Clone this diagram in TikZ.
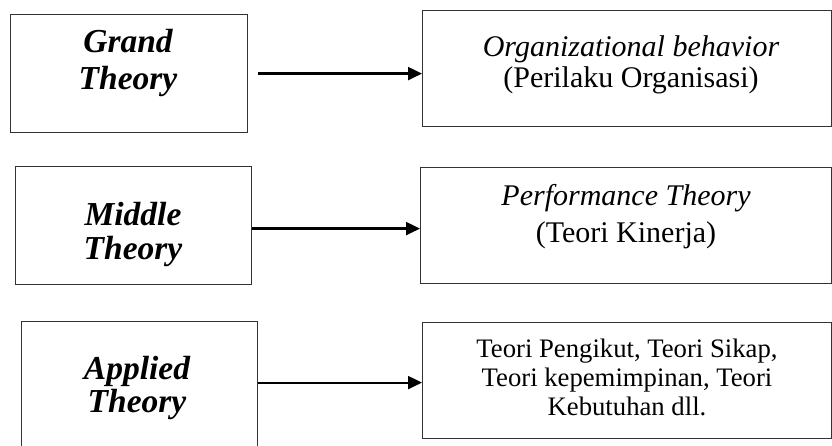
\documentclass[tikz,border=0pt]{standalone}
\usepackage{fontspec}
\setmainfont{Liberation Serif}
\usetikzlibrary{arrows.meta,calc}
\begin{document}
\begin{tikzpicture}[x=1pt,y=-1pt,
  box/.style={draw=black!80,line width=1.2pt,rectangle,inner sep=0pt,anchor=north west},
  lefttext/.style={align=center,font=\fontsize{33.5}{35}\selectfont\bfseries\itshape,inner sep=0pt,anchor=base},
  righttext/.style={align=center,font=\fontsize{30}{31}\selectfont,inner sep=0pt,anchor=base},
  smalltext/.style={align=center,font=\fontsize{26.7}{29}\selectfont,inner sep=0pt,anchor=base},
  arr/.style={line width=2.2pt,-{Triangle[length=14pt,width=13pt]}}]
\useasboundingbox (0,0) rectangle (832,446);
\fill[white] (0,0) rectangle (832,446);

% left column: theory levels
\node[box,minimum width=237pt,minimum height=118pt] (grand) at (10,14) {};
\node[box,minimum width=236pt,minimum height=118pt] (middle) at (15,166) {};
\node[box,minimum width=236pt,minimum height=150pt] (applied) at (21,321) {};

% right column: the theories at each level
\node[box,minimum width=409pt,minimum height=116pt] (org) at (422,10) {};
\node[box,minimum width=411pt,minimum height=116pt] (perf) at (420,167) {};
\node[box,minimum width=409pt,minimum height=116pt] (appl) at (422,322) {};

% labels (anchored at the baseline of their last line)
\node[lefttext] (tgrand) at (128,90) {Grand\\[2pt]Theory};
\node[lefttext] (tmiddle) at (133,260) {Middle\\[0pt]Theory};
\node[lefttext] (tapplied) at (137,412) {Applied\\[-2pt]Theory};

\node[righttext] (torg) at (631,88) {\itshape Organizational behavior\\(Perilaku Organisasi)};
\node[righttext] (tperf) at (626,243) {\itshape Performance Theory\\[6pt](Teori Kinerja)};
\node[smalltext] (tappl) at (627,415) {Teori Pengikut, Teori Sikap,\\Teori kepemimpinan, Teori\\Kebutuhan dll.};

% connectors
\draw[arr] ([xshift=10pt]grand.east) -- (grand.east -| org.west);
\draw[arr] ([yshift=-3pt]middle.east) -- ([yshift=-3pt]middle.east -| perf.west);
\draw[arr] ([yshift=14pt]applied.east) -- ([yshift=14pt]applied.east -| appl.west);
\end{tikzpicture}
\end{document}
